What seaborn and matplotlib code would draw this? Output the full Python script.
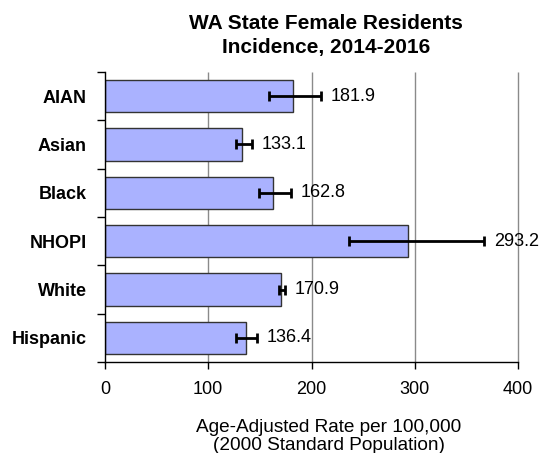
import matplotlib
matplotlib.use("Agg")
import matplotlib.pyplot as plt
import seaborn as sns
import numpy as np
import pandas as pd

categories = ["AIAN", "Asian", "Black", "NHOPI", "White", "Hispanic"]
rates = [181.9, 133.1, 162.8, 293.2, 170.9, 136.4]
ci_low = [158.7, 126.6, 149.1, 236.5, 168.8, 127.2]
ci_high = [209.4, 142.0, 179.7, 367.0, 174.2, 147.5]
x_ticks = [0, 100, 200, 300, 400]
title_lines = ["WA State Female Residents", "Incidence, 2014-2016"]
xlabel_lines = ["Age-Adjusted Rate per 100,000", "(2000 Standard Population)"]

sns.set_theme(style="white")
plt.rcParams["font.family"] = ["Liberation Sans", "DejaVu Sans"]
plt.rcParams["text.color"] = "black"
plt.rcParams["xtick.color"] = "black"
plt.rcParams["ytick.color"] = "black"
plt.rcParams["axes.labelcolor"] = "black"

df = pd.DataFrame({"group": categories, "rate": rates})

W, H = 542, 453
fig = plt.figure(figsize=(W / 100, H / 100), dpi=100)
ax = fig.add_axes([105 / W, 1 - 362 / H, (518 - 105) / W, (362 - 72) / H])

# vertical gridlines behind bars
ax.vlines(x_ticks[1:], -0.5, len(categories) - 0.5, colors="#8a8a8a",
          linewidth=1.0, zorder=0, clip_on=False)

sns.barplot(data=df, x="rate", y="group", orient="h", color="#AAB2FF",
            saturation=1, edgecolor="#333333", linewidth=1.0, width=0.67,
            ax=ax, errorbar=None, zorder=2)

pos = np.arange(len(categories))
lo = np.array(rates) - np.array(ci_low)
hi = np.array(ci_high) - np.array(rates)
ax.errorbar(rates, pos, xerr=[lo, hi], fmt="none", ecolor="black",
            elinewidth=2, capsize=3.5, capthick=2, zorder=5)

for i, (v, h) in enumerate(zip(rates, ci_high)):
    ax.annotate(f"{v:.1f}", xy=(h, i), xytext=(7, 0), textcoords="offset points",
                ha="left", va="center", fontsize=13, color="black")

ax.set_xlim(0, 400)
ax.set_ylim(5.5, -0.5)
ax.set_xticks(x_ticks)
ax.set_xticklabels([str(t) for t in x_ticks], fontsize=13)
ax.set_yticks(pos)
ax.set_yticklabels(categories, fontsize=13, fontweight="bold")
ax.set_yticks(np.arange(-0.5, len(categories), 1.0), minor=True)
ax.tick_params(axis="y", which="major", length=0, pad=13)
ax.tick_params(axis="y", which="minor", length=6, width=1, color="black", direction="out", left=True)
ax.tick_params(axis="x", which="major", length=5, width=1, color="black", direction="out", bottom=True, pad=9)

for s in ["top", "right"]:
    ax.spines[s].set_visible(False)
for s in ["left", "bottom"]:
    ax.spines[s].set_color("black")
    ax.spines[s].set_linewidth(1.0)

ax.set_ylabel("")
ax.set_xlabel("")

cx = 326 / W
for txt, yb in zip(title_lines, [29, 53]):
    fig.text(cx, 1 - yb / H, txt, ha="center", va="baseline", fontsize=15, fontweight="bold")
for txt, yb in zip(xlabel_lines, [432, 450]):
    fig.text(cx + 3 / W, 1 - yb / H, txt, ha="center", va="baseline", fontsize=13.7)

fig.savefig("out.png", dpi=100)
